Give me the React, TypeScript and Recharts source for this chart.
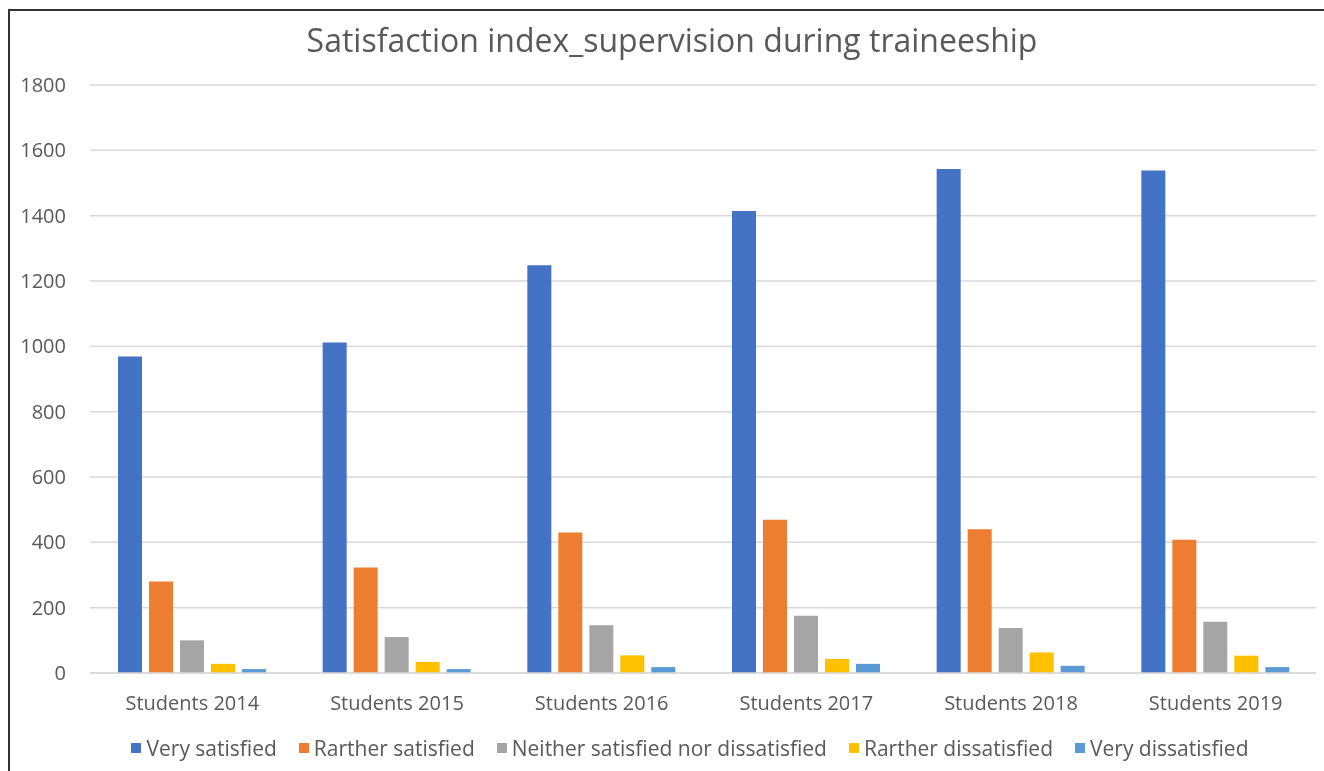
import { BarChart, Bar, XAxis, YAxis, CartesianGrid } from "recharts";

const categories = ["Students 2014", "Students 2015", "Students 2016", "Students 2017", "Students 2018", "Students 2019"];
const verySatisfied = [969, 1012, 1248, 1414, 1543, 1538];
const ratherSatisfied = [280, 323, 430, 469, 440, 408];
const neither = [100, 110, 146, 175, 138, 157];
const ratherDissatisfied = [28, 34, 54, 43, 63, 53];
const veryDissatisfied = [12, 12, 18, 28, 22, 18];
const yTicks = [0, 200, 400, 600, 800, 1000, 1200, 1400, 1600, 1800];

const series = [
    { key: "very_satisfied", name: "Very satisfied", color: "#4472C4", values: verySatisfied },
    { key: "rather_satisfied", name: "Rarther satisfied", color: "#ED7D31", values: ratherSatisfied },
    { key: "neither", name: "Neither satisfied nor dissatisfied", color: "#A5A5A5", values: neither },
    { key: "rather_dissatisfied", name: "Rarther dissatisfied", color: "#FFC000", values: ratherDissatisfied },
    { key: "very_dissatisfied", name: "Very dissatisfied", color: "#5B9BD5", values: veryDissatisfied },
];

const data = categories.map((c, i) => {
    const row: any = { category: c };
    series.forEach((s) => (row[s.key] = s.values[i]));
    return row;
});

const font = "'Open Sans', sans-serif";
const textColor = "#595959";

export default function App() {
    return (
        <div style={{ position: "relative", width: 1316, height: 755, background: "#fff" }}>
            <div style={{ position: "fixed", left: 8, top: 9, width: 1330, height: 780, borderTop: "2px solid #333", borderLeft: "2px solid #333", pointerEvents: "none" }} />
            <div style={{ position: "absolute", left: 0, width: 1328, top: 10, textAlign: "center", fontFamily: font, fontSize: 32, color: textColor }}>
                Satisfaction index_supervision during traineeship
            </div>
            <BarChart
                width={1316}
                height={755}
                data={data}
                margin={{ top: 77, right: 6, left: 0, bottom: 40 }}
                barSize={24}
                barGap={7}
            >
                <CartesianGrid vertical={false} stroke="#d9d9d9" strokeWidth={1.5} />
                <XAxis
                    dataKey="category"
                    tickLine={false}
                    axisLine={{ stroke: "#d9d9d9", strokeWidth: 1.5 }}
                    tickMargin={17}
                    height={50}
                    tick={{ fontFamily: font, fontSize: 20, fill: textColor }}
                    interval={0}
                />
                <YAxis
                    domain={[0, 1800]}
                    ticks={yTicks}
                    width={82}
                    tickLine={false}
                    axisLine={false}
                    tickMargin={18}
                    tick={{ fontFamily: font, fontSize: 20, fill: textColor }}
                />
                {series.map((s) => (
                    <Bar key={s.key} dataKey={s.key} name={s.name} fill={s.color} isAnimationActive={false} />
                ))}
            </BarChart>
            {/* legend drawn by hand, in series order */}
            <div style={{ position: "absolute", left: 0, width: 1364, top: 726, display: "flex", justifyContent: "center", gap: 22, fontFamily: font, fontSize: 21, color: textColor }}>
                {series.map((s) => (
                    <div key={s.key} style={{ display: "flex", alignItems: "center" }}>
                        <span style={{ width: 10, height: 10, background: s.color, display: "inline-block", marginRight: 5 }} />
                        <span>{s.name}</span>
                    </div>
                ))}
            </div>
        </div>
    );
}
